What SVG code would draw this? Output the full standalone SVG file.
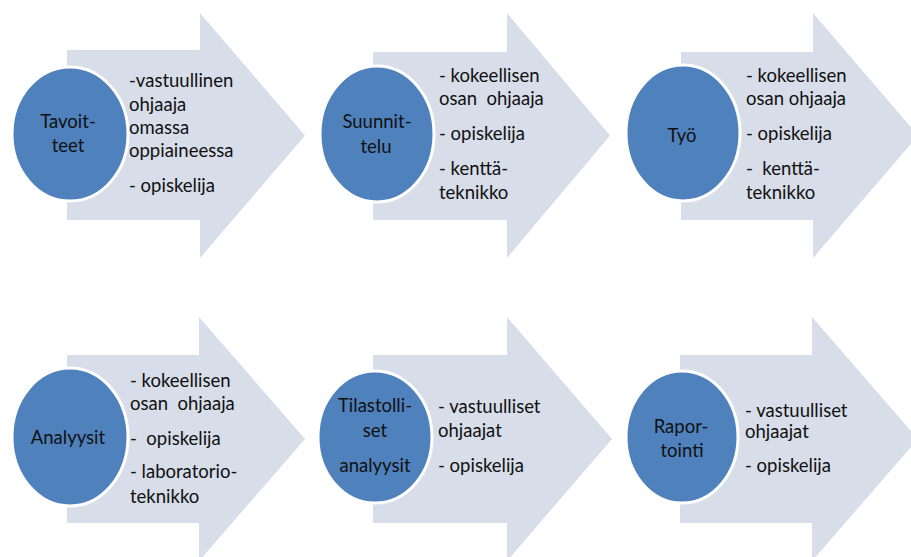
<svg xmlns="http://www.w3.org/2000/svg" width="911" height="557" viewBox="0 0 911 557">
<style>
.arrow{fill:#d7dde9}
.circ{fill:#4f81bd;stroke:#ffffff;stroke-width:3}
text{font-family:Lato,"Liberation Sans",sans-serif;font-size:18.5px;fill:#111111}
.c{text-anchor:middle}
</style>
<rect width="911" height="557" fill="#ffffff"/>
<g id="connectors"></g>
<g id="step1">
<path class="arrow" d="M67,50 H200 V13 L305,135.5 L200,258 V220 H67 Z"/>
<ellipse class="circ" cx="70" cy="134" rx="58" ry="67"/>
<text class="c" x="68" y="128">Tavoit-</text>
<text class="c" x="68" y="152">teet</text>
<text x="129" y="87">-vastuullinen</text>
<text x="129" y="111">ohjaaja</text>
<text x="129" y="134">omassa</text>
<text x="129" y="157">oppiaineessa</text>
<text x="129" y="192">- opiskelija</text>
</g>
<g id="step2">
<path class="arrow" d="M373,52 H507 V13 L610,135.5 L507,258 V220 H373 Z"/>
<ellipse class="circ" cx="377" cy="134" rx="57" ry="68"/>
<text class="c" x="377" y="128">Suunnit-</text>
<text class="c" x="376" y="153">telu</text>
<text x="439" y="82">- kokeellisen</text>
<text x="439" y="105" xml:space="preserve">osan  ohjaaja</text>
<text x="439" y="140">- opiskelija</text>
<text x="439" y="175">- kenttä-</text>
<text x="439" y="199">teknikko</text>
</g>
<g id="step3">
<path class="arrow" d="M681,52 H813 V13 L918,135.5 L813,258 V220 H681 Z"/>
<ellipse class="circ" cx="683" cy="133" rx="57" ry="68"/>
<text class="c" x="682" y="142">Työ</text>
<text x="746" y="82">- kokeellisen</text>
<text x="746" y="105">osan ohjaaja</text>
<text x="746" y="140">- opiskelija</text>
<text x="746" y="175" xml:space="preserve">-  kenttä-</text>
<text x="746" y="199">teknikko</text>
</g>
<g id="step4">
<path class="arrow" d="M67,355 H199 V317 L305,439 L199,561 V523 H67 Z"/>
<ellipse class="circ" cx="70" cy="437" rx="58" ry="69"/>
<text class="c" x="68" y="444">Analyysit</text>
<text x="130" y="387">- kokeellisen</text>
<text x="130" y="410" xml:space="preserve">osan  ohjaaja</text>
<text x="130" y="445" xml:space="preserve">-  opiskelija</text>
<text x="130" y="478">- laboratorio-</text>
<text x="130" y="503">teknikko</text>
</g>
<g id="step5">
<path class="arrow" d="M373,355 H507 V317 L612,439 L507,561 V523 H373 Z"/>
<ellipse class="circ" cx="375" cy="437" rx="57" ry="66"/>
<text class="c" x="375" y="412">Tilastolli-</text>
<text class="c" x="375" y="437">set</text>
<text class="c" x="375" y="472">analyysit</text>
<text x="438" y="413">- vastuulliset</text>
<text x="438" y="437">ohjaajat</text>
<text x="438" y="472">- opiskelija</text>
</g>
<g id="step6">
<path class="arrow" d="M680,355 H812 V317 L918,439 L812,561 V523 H680 Z"/>
<ellipse class="circ" cx="682" cy="437" rx="56" ry="66"/>
<text class="c" x="681" y="433">Rapor-</text>
<text class="c" x="682" y="457">tointi</text>
<text x="745" y="417">- vastuulliset</text>
<text x="745" y="438">ohjaajat</text>
<text x="745" y="472">- opiskelija</text>
</g>
</svg>
